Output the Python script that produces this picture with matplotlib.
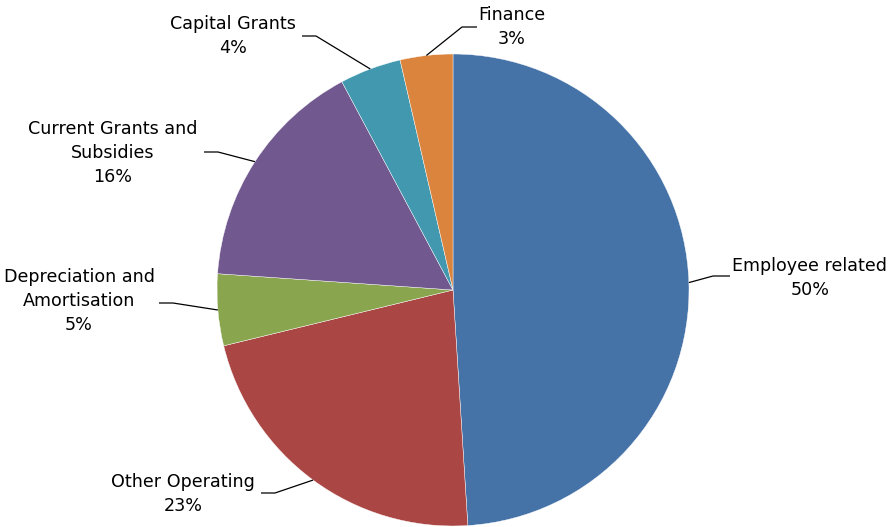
import numpy as np
import matplotlib
matplotlib.use("Agg")
import matplotlib.pyplot as plt

# slice values (share of the circle, clockwise from top)
categories = ["Employee related", "Other Operating", "Depreciation and\nAmortisation",
              "Current Grants and\nSubsidies", "Capital Grants", "Finance"]
values = [49.0, 22.2, 4.9, 16.1, 4.2, 3.6]
pct_labels = ["50%", "23%", "5%", "16%", "4%", "3%"]
colors = ["#4572A7", "#AA4643", "#89A54E", "#71588F", "#4198AF", "#DB843D"]

# label layout in pixels (top-left origin): text centre, elbow, line end
text_pos = [(810, 278), (183, 494), (79, 301), (113, 153), (233, 36), (512, 27)]
elbows = [(713, 276), (275, 493), (173, 303), (218, 152), (316, 36), (462, 27)]
ends = [(730, 276), (261, 493), (159, 303), (204, 152), (302, 36), (477, 27)]

W, H = 888, 527
cx, cy, r = 453, 290, 236

fig = plt.figure(figsize=(W / 100, H / 100), dpi=100)
ax = fig.add_axes([0, 0, 1, 1])

wedges, _ = ax.pie(values, colors=colors, startangle=90, counterclock=False,
                   center=(cx, H - cy), radius=r,
                   wedgeprops=dict(edgecolor="white", linewidth=0.3))
ax.set_xlim(0, W)
ax.set_ylim(0, H)
ax.set_aspect("equal")
ax.axis("off")

for w, cat, pct, tp, el, en in zip(wedges, categories, pct_labels, text_pos, elbows, ends):
    mid = np.deg2rad((w.theta1 + w.theta2) / 2)
    ax_x = cx + r * np.cos(mid)
    ax_y = (H - cy) + r * np.sin(mid)
    ax.plot([ax_x, el[0], en[0]], [ax_y, H - el[1], H - en[1]],
            color="black", linewidth=0.9, solid_capstyle="butt")
    ax.text(tp[0], H - tp[1], cat + "\n" + pct, ha="center", va="center",
            fontsize=12.6, linespacing=1.45, color="black", family="DejaVu Sans")

fig.savefig("out.png", dpi=100)
